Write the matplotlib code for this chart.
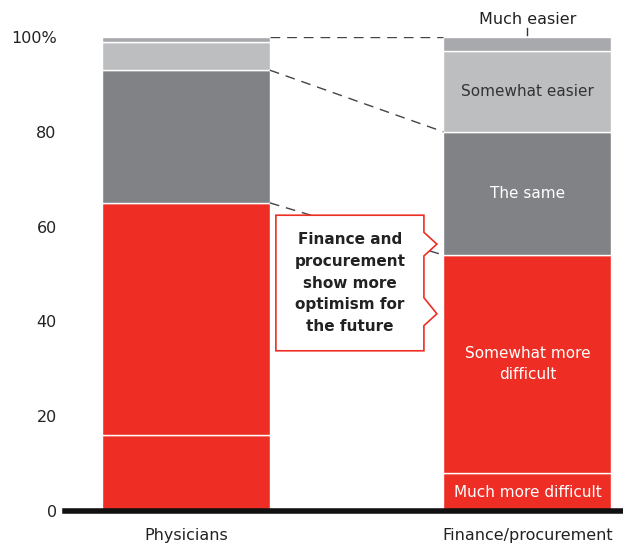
import matplotlib
matplotlib.use("Agg")
import matplotlib.pyplot as plt
import numpy as np

groups = ["Physicians", "Finance/procurement"]
segments = ["Much more difficult", "Somewhat more difficult", "The same",
            "Somewhat easier", "Much easier"]
physicians = [16, 49, 28, 6, 1]
finance = [8, 46, 26, 17, 3]
colors = ["#EE2E24", "#EE2E24", "#808285", "#BCBEC0", "#A7A9AC"]
yticks = [0, 20, 40, 60, 80, 100]
ytick_labels = ["0", "20", "40", "60", "80", "100%"]

plt.rcParams["font.family"] = ["DejaVu Sans"]

fig = plt.figure(figsize=(6.23, 5.5), dpi=100)
ax = fig.add_axes([65 / 623, 39 / 550, 558 / 623, 474 / 550])

x = np.arange(len(groups))
width = 0.492
data = np.array([physicians, finance])
bottoms = np.zeros(len(groups))
for i, seg in enumerate(segments):
    ax.bar(x, data[:, i], width, bottom=bottoms, color=colors[i],
           edgecolor="white", linewidth=1)
    bottoms += data[:, i]

ax.set_xlim(-0.354, 1.28)
ax.set_ylim(0, 100)
ax.set_yticks(yticks)
ax.set_yticklabels(ytick_labels, fontsize=11.5, color="#222222")
ax.set_xticks(x)
ax.set_xticklabels(groups, fontsize=11.5, color="#222222")
ax.tick_params(length=0, axis="y", pad=6)
ax.tick_params(length=0, axis="x", pad=12)
for s in ax.spines.values():
    s.set_visible(False)
ax.axhline(0, color="#111111", lw=4, clip_on=False, zorder=5)

# dashed connectors between bars
cum = np.cumsum(data, axis=1)
x0 = x[0] + width / 2
x1 = x[1] - width / 2
for k in [4, 2, 1]:
    ax.plot([x0, x1], [cum[0, k], cum[1, k]], color="#444444", lw=1,
            dashes=(7, 5), zorder=1)

# segment labels on finance bar
fb = np.concatenate([[0], cum[1]])
mid = (fb[:-1] + fb[1:]) / 2
ax.text(x[1], mid[0], "Much more difficult", color="white", ha="center",
        va="center", fontsize=11)
ax.text(x[1], mid[1], "Somewhat more\ndifficult", color="white", ha="center",
        va="center", fontsize=11, linespacing=1.5)
ax.text(x[1], mid[2], "The same", color="white", ha="center", va="center",
        fontsize=11)
ax.text(x[1], mid[3], "Somewhat easier", color="#333333", ha="center",
        va="center", fontsize=11)
ax.text(x[1], 103.6, "Much easier", color="#222222", ha="center", va="center",
        fontsize=11.5, clip_on=False)
ax.plot([x[1], x[1]], [100.5, 101.9], color="#333333", lw=1, clip_on=False)

# callout box with zigzag right edge
bx = [0.2635, 0.697, 0.697, 0.735, 0.697, 0.697, 0.735, 0.697, 0.697, 0.2635, 0.2635]
by = [62.4, 62.4, 58.8, 56.3, 53.8, 45.0, 41.6, 39.1, 33.8, 33.8, 62.4]
ax.fill(bx, by, facecolor="white", edgecolor="#EE2E24", lw=1.2, zorder=6)
ax.text(0.48, 48.1, "Finance and\nprocurement\nshow more\noptimism for\nthe future",
        ha="center", va="center", fontsize=11, fontweight="bold",
        color="#222222", linespacing=1.55, zorder=7)

fig.savefig("out.png", dpi=100)
